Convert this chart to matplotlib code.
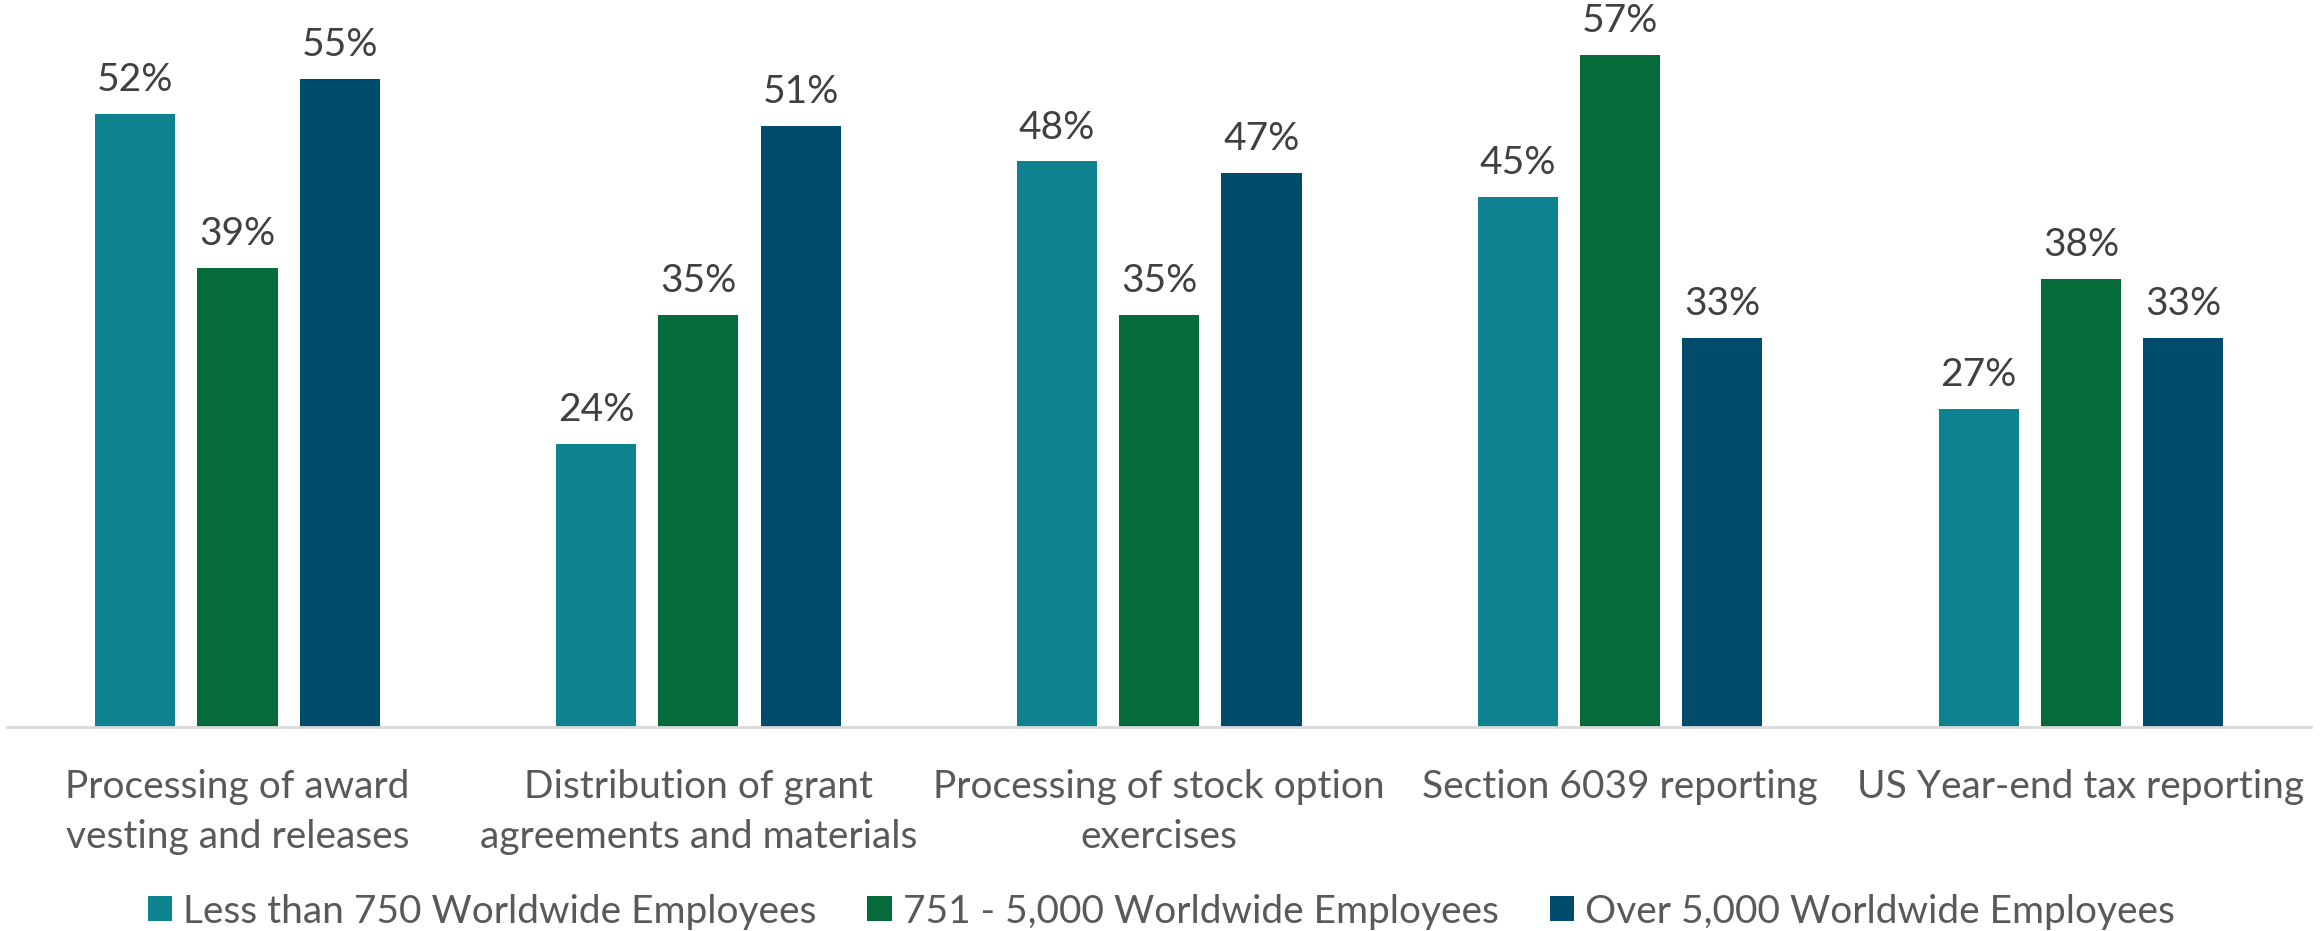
import matplotlib.pyplot as plt
import numpy as np

categories = ['Processing of award\nvesting and releases',
              'Distribution of grant\nagreements and materials',
              'Processing of stock option\nexercises',
              'Section 6039 reporting',
              'US Year-end tax reporting']
series_names = ['Less than 750 Worldwide Employees',
                '751 - 5,000 Worldwide Employees',
                'Over 5,000 Worldwide Employees']
small = [52, 24, 48, 45, 27]
mid = [39, 35, 35, 57, 38]
large = [55, 51, 47, 33, 33]
colors = ['#0E838F', '#056B3A', '#004C6C']

plt.rcParams['font.family'] = ['Lato', 'DejaVu Sans']

fig = plt.figure(figsize=(23.23, 9.31), dpi=100)
ax = fig.add_axes([0.003, 0.219, 0.992, 0.781])

x = np.arange(len(categories))
width = 0.174
offset = 0.222
for k, vals in enumerate([small, mid, large]):
    pos = x + (k - 1) * offset
    bars = ax.bar(pos, vals, width, color=colors[k], label=series_names[k])
    for b, v in zip(bars, vals):
        ax.annotate('%d%%' % v, (b.get_x() + b.get_width() / 2, v),
                    xytext=(0, 16.5), textcoords='offset points',
                    ha='center', va='baseline', fontsize=28, color='#404040')

ax.set_xlim(-0.5, len(categories) - 0.5)
ax.set_ylim(0, 61.7)
ax.set_yticks([])
ax.set_xticks(x)
ax.set_xticklabels(categories, fontsize=28, color='#595959', linespacing=1.5)
ax.tick_params(axis='x', length=0, pad=30)
for s in ['top', 'right', 'left']:
    ax.spines[s].set_visible(False)
ax.spines['bottom'].set_color('#D9D9D9')
ax.spines['bottom'].set_linewidth(2)

leg = fig.legend(loc='lower center', ncol=3, frameon=False, fontsize=28,
                 bbox_to_anchor=(0.5, -0.036), handlelength=0.62, handleheight=0.62,
                 handletextpad=0.3, columnspacing=1.3, labelcolor='#595959')

plt.savefig('out.png', format='png')
